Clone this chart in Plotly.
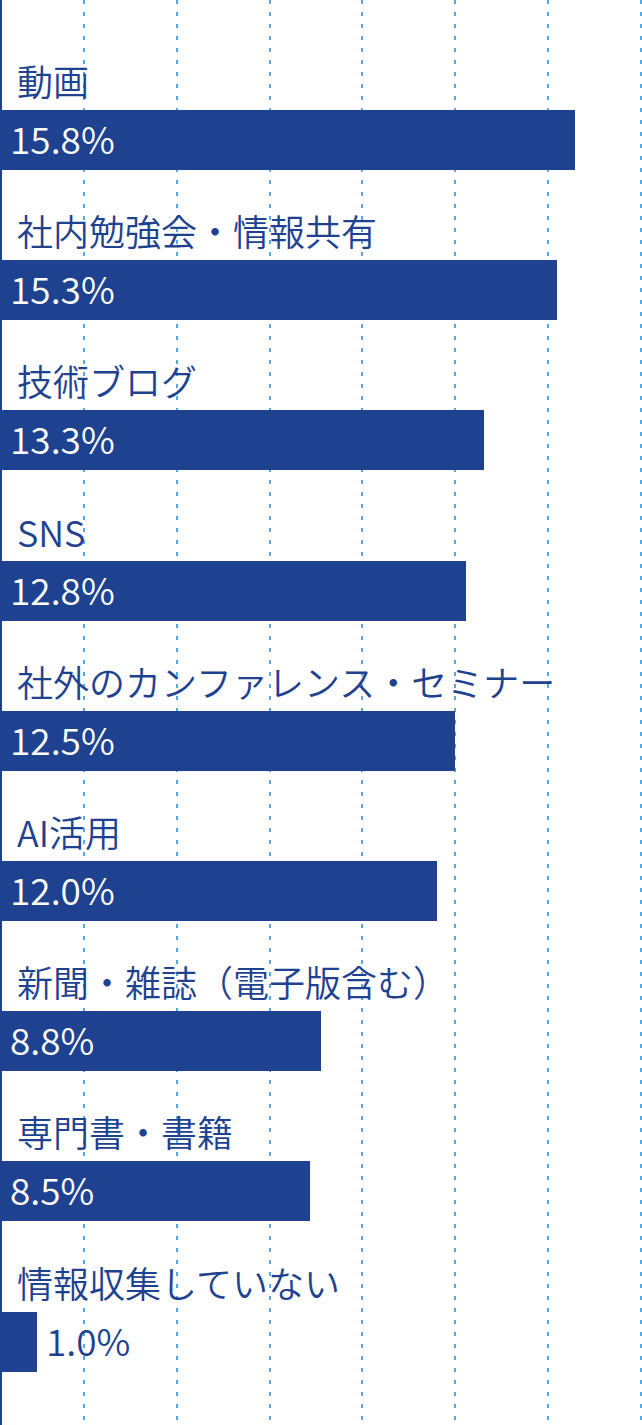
import plotly.graph_objects as go

categories = ["動画", "社内勉強会・情報共有", "技術ブログ", "SNS",
              "社外のカンファレンス・セミナー", "AI活用",
              "新聞・雑誌（電子版含む）", "専門書・書籍", "情報収集していない"]
values = [15.8, 15.3, 13.3, 12.8, 12.5, 12.0, 8.8, 8.5, 1.0]
value_labels = ["15.8%", "15.3%", "13.3%", "12.8%", "12.5%", "12.0%", "8.8%", "8.5%", "1.0%"]

BAR = "#1e4290"
GRID = "#5ba8df"
FONT = "Noto Sans CJK JP"
W, H = 642, 1425
PX_PER_UNIT = 36.33
ZERO_PX = 1.0
x0 = -ZERO_PX / PX_PER_UNIT
x1 = x0 + W / PX_PER_UNIT

fig = go.Figure()
fig.add_trace(go.Bar(
    x=values, y=categories, orientation="h",
    marker=dict(color=BAR, line=dict(width=0)),
    width=0.4, hoverinfo="skip", showlegend=False,
))

annotations = []
for cat, v, lab in zip(categories, values, value_labels):
    annotations.append(dict(
        x=0, y=cat, xref="x", yref="y", text=cat, showarrow=False,
        xanchor="left", yanchor="middle", xshift=14, yshift=60,
        font=dict(family=FONT, size=36, color=BAR, weight=350),
    ))
    inside = v * PX_PER_UNIT > 130
    if inside:
        annotations.append(dict(
            x=0, y=cat, xref="x", yref="y", text=lab, showarrow=False,
            xanchor="left", yanchor="middle", xshift=7, yshift=2,
            font=dict(family=FONT, size=37, color="white", weight=350),
        ))
    else:
        annotations.append(dict(
            x=v, y=cat, xref="x", yref="y", text=lab, showarrow=False,
            xanchor="left", yanchor="middle", xshift=7, yshift=2,
            font=dict(family=FONT, size=37, color=BAR, weight=350),
        ))

period = 150.2
first_center = 140.0
y_top = -first_center / period
y_bot = (H - first_center) / period

fig.update_layout(
    width=W, height=H,
    margin=dict(l=0, r=0, t=0, b=0, pad=0),
    paper_bgcolor="white", plot_bgcolor="white",
    bargap=0,
    annotations=annotations,
    xaxis=dict(
        range=[x0, x1], showticklabels=False, ticks="",
        showgrid=True, gridcolor=GRID, gridwidth=2, griddash="4px,8px",
        tickmode="linear", tick0=(84 - ZERO_PX) / PX_PER_UNIT, dtick=92.8 / PX_PER_UNIT,
        zeroline=True, zerolinecolor=BAR, zerolinewidth=2,
        showline=False, fixedrange=True,
    ),
    yaxis=dict(
        type="category", categoryorder="array", categoryarray=categories,
        range=[y_bot, y_top], showticklabels=False, ticks="",
        showgrid=False, zeroline=False, showline=False, fixedrange=True,
    ),
)

fig.write_html("out.html", config={"displayModeBar": False},
               post_script="document.body.style.margin='0';")
